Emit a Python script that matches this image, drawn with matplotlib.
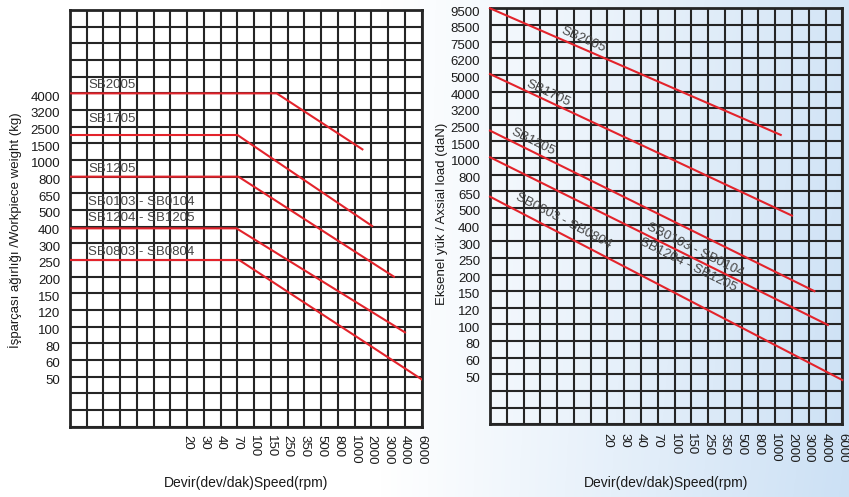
import numpy as np
import matplotlib
matplotlib.use("Agg")
import matplotlib.pyplot as plt
import matplotlib.transforms as mtransforms

plt.rcParams['font.family'] = ['Liberation Sans', 'DejaVu Sans']

# x axis: speed ticks (rpm) sit on grid columns 7..21
speed_labels = ['20', '30', '40', '70', '100', '150', '250', '350', '500',
                '800', '1000', '2000', '3000', '4000', '6000']
speed_pos = list(range(7, 22))

# left: workpiece weight (kg), rows 20..3
weight_labels = ['4000', '3200', '2500', '1500', '1000', '800', '650', '500', '400',
                 '300', '250', '200', '150', '120', '100', '80', '60', '50']
weight_pos = list(range(20, 2, -1))

# right: axial load (daN), rows 25..3
load_labels = ['9500', '8500', '7500', '6200', '5000', '4000', '3200', '2500', '1500',
               '1000', '800', '650', '500', '400', '300', '250', '200', '150', '120',
               '100', '80', '60', '50']
load_pos = list(range(25, 2, -1))

# curves, in grid coordinates (column, row)
w_sb2005_x = [0, 12.34, 17.46]; w_sb2005_y = [20, 20, 16.64]
w_sb1705_x = [0, 10.0, 18.04];  w_sb1705_y = [17.5, 17.5, 12.04]
w_sb1205_x = [0, 10.06, 19.34]; w_sb1205_y = [15, 15, 9]
w_sb0103_x = [0, 9.94, 20.0];   w_sb0103_y = [11.9, 11.9, 5.66]
w_sb0803_x = [0, 10.1, 21];     w_sb0803_y = [10, 10, 2.84]

weight_names = ['SB2005', 'SB1705', 'SB1205', 'SB0103 - SB0104', 'SB1204 - SB1205',
                'SB0803 - SB0804']
weight_name_y = [20.5, 18.46, 15.46, 13.5, 12.5, 10.46]

a_sb2005_x = [0, 17.33]; a_sb2005_y = [25, 17.39]
a_sb1705_x = [0, 18.0];  a_sb1705_y = [21.05, 12.54]
a_sb1205_x = [0, 19.34]; a_sb1205_y = [17.65, 8]
a_sb0103_x = [0, 20.14]; a_sb0103_y = [16.05, 5.97]
a_sb0803_x = [0, 21];    a_sb0803_y = [13.68, 2.66]

load_names = ['SB2005', 'SB1705', 'SB1205', 'SB0803 - SB0804', 'SB0103 - SB0104',
              'SB1204 - SB1205']
load_name_x = [5.56, 3.48, 2.58, 4.41, 12.22, 11.78]
load_name_y = [23.1, 19.89, 16.98, 12.22, 10.48, 9.57]

RED = '#e3232b'
GRID = '#252525'

fig = plt.figure(figsize=(8.49, 4.97), dpi=100)

# background gradient (white -> light blue to the right)
bg = fig.add_axes([0, 0, 1, 1], zorder=-10)
xx, yy = np.meshgrid(np.linspace(0, 1, 400), np.linspace(0, 1, 200))
t = np.clip((xx - 0.45) / 0.55, 0, 1)
a = t * (0.85 + 0.15 * yy)
blue = np.array([0.80, 0.88, 0.96])
img = (1 - a[..., None]) * np.ones(3) + a[..., None] * blue
bg.imshow(img, extent=[0, 1, 0, 1], aspect='auto', origin='upper')
bg.axis('off')

# nudge y tick labels a little below their grid line, as in the original
nudge = mtransforms.ScaledTranslation(0, -2 / 72, fig.dpi_scale_trans)


def setup(ax, ypos, ylabels):
    ax.set_xlim(0, 21)
    ax.set_ylim(0, 25)
    ax.set_xticks(range(22), minor=True)
    ax.set_yticks(range(26), minor=True)
    ax.set_xticks(speed_pos)
    ax.set_xticklabels(speed_labels, rotation=-90, fontsize=9.5, color='#1a1a1a')
    ax.set_yticks(ypos)
    ax.set_yticklabels(ylabels, fontsize=9.5, color='#1a1a1a')
    ax.grid(which='both', color=GRID, linewidth=1.5)
    ax.tick_params(which='both', length=0)
    ax.tick_params(axis='x', pad=6)
    ax.tick_params(axis='y', pad=7)
    ax.set_axisbelow(True)
    for lab in ax.get_yticklabels():
        lab.set_transform(lab.get_transform() + nudge)
    for s in ax.spines.values():
        s.set_color(GRID)
        s.set_linewidth(2)


# left panel
ax1 = fig.add_axes([70 / 849, 1 - 426.7 / 497, 351.7 / 849, 416.7 / 497])
ax1.set_facecolor('white')
setup(ax1, weight_pos, weight_labels)
for xs, ys in [(w_sb2005_x, w_sb2005_y), (w_sb1705_x, w_sb1705_y),
               (w_sb1205_x, w_sb1205_y), (w_sb0103_x, w_sb0103_y),
               (w_sb0803_x, w_sb0803_y)]:
    ax1.plot(xs, ys, color=RED, lw=1.5, zorder=3)
for name, y in zip(weight_names, weight_name_y):
    ax1.text(1.1, y, name, fontsize=9.5, color='#444444', va='center', ha='left', zorder=4)

# right panel
ax2 = fig.add_axes([490 / 849, 1 - 424.3 / 497, 352.3 / 849, 416 / 497])
ax2.set_facecolor('none')
setup(ax2, load_pos, load_labels)
load_lines = [(a_sb2005_x, a_sb2005_y), (a_sb1705_x, a_sb1705_y),
              (a_sb1205_x, a_sb1205_y), (a_sb0803_x, a_sb0803_y),
              (a_sb0103_x, a_sb0103_y), (a_sb0103_x, a_sb0103_y)]
for xs, ys in load_lines[:5]:
    ax2.plot(xs, ys, color=RED, lw=1.5, zorder=3, clip_on=False)
for name, x, y, (xs, ys) in zip(load_names, load_name_x, load_name_y, load_lines):
    p = ax2.transData.transform([(xs[0], ys[0]), (xs[-1], ys[-1])])
    ang = np.degrees(np.arctan2(p[1, 1] - p[0, 1], p[1, 0] - p[0, 0]))
    ax2.text(x, y, name, fontsize=9.5, color='#444444', rotation=ang,
             rotation_mode='anchor', ha='center', va='center', zorder=4)

# axis titles
fig.text(15 / 849, 1 - 230 / 497, 'İşparçası ağırlığı /Workpiece weight (kg)',
         rotation=90, fontsize=9.5, ha='center', va='center', color='#1a1a1a')
fig.text(442 / 849, 1 - 214 / 497, 'Eksenel yük / Axsial load (daN)',
         rotation=90, fontsize=9.5, ha='center', va='center', color='#1a1a1a')
fig.text(246 / 849, 1 - 483 / 497, 'Devir(dev/dak)Speed(rpm)',
         fontsize=10, ha='center', va='center', color='#1a1a1a')
fig.text(666 / 849, 1 - 483 / 497, 'Devir(dev/dak)Speed(rpm)',
         fontsize=10, ha='center', va='center', color='#1a1a1a')

fig.savefig('out.png', dpi=100)
